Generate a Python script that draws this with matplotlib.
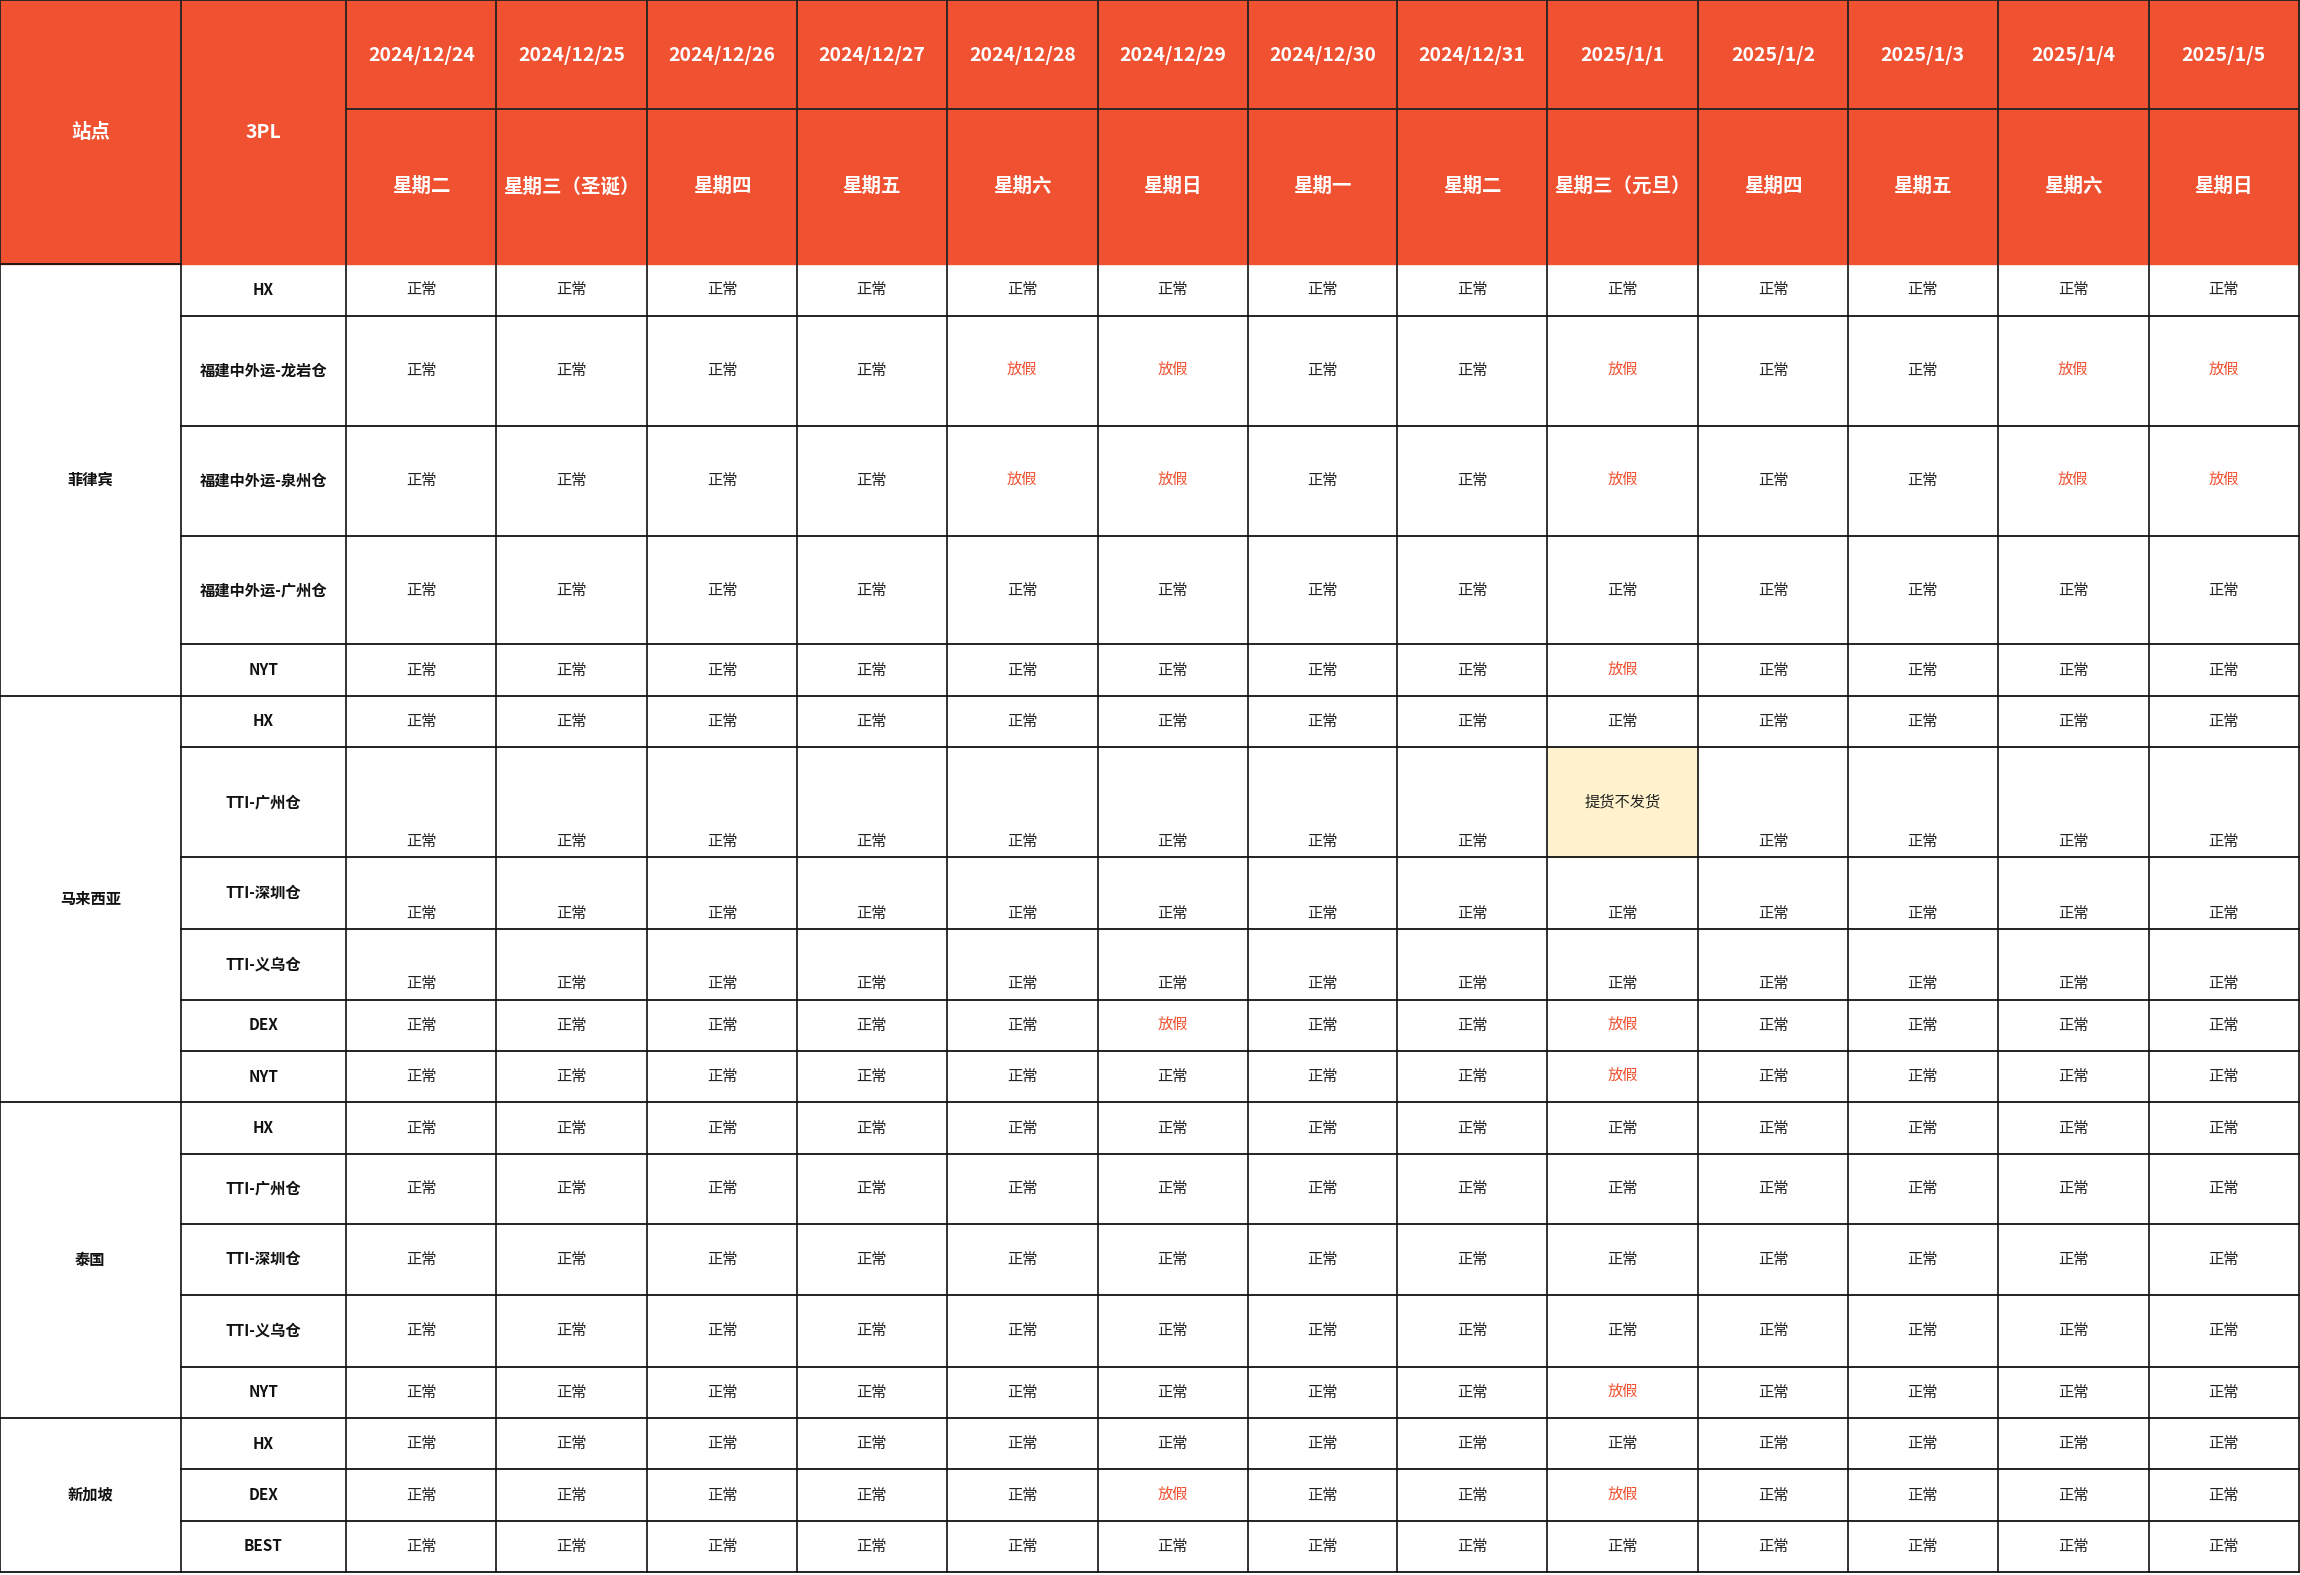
import matplotlib
matplotlib.use("Agg")
import matplotlib.pyplot as plt
from matplotlib.patches import Rectangle

plt.rcParams["font.family"] = ["Noto Sans CJK SC", "DejaVu Sans"]

dates = ["2024/12/24", "2024/12/25", "2024/12/26", "2024/12/27", "2024/12/28", "2024/12/29",
         "2024/12/30", "2024/12/31", "2025/1/1", "2025/1/2", "2025/1/3", "2025/1/4", "2025/1/5"]
weekdays = ["星期二", "星期三（圣诞）", "星期四", "星期五", "星期六", "星期日",
            "星期一", "星期二", "星期三（元旦）", "星期四", "星期五", "星期六", "星期日"]
sites = ["菲律宾", "马来西亚", "泰国", "新加坡"]
site_rows = [5, 6, 5, 3]
providers = ["HX", "福建中外运-龙岩仓", "福建中外运-泉州仓", "福建中外运-广州仓", "NYT",
             "HX", "TTI-广州仓", "TTI-深圳仓", "TTI-义乌仓", "DEX", "NYT",
             "HX", "TTI-广州仓", "TTI-深圳仓", "TTI-义乌仓", "NYT",
             "HX", "DEX", "BEST"]
# N=正常, H=放假, X=提货不发货
status = ["NNNNNNNNNNNNN", "NNNNHHNNHNNHH", "NNNNHHNNHNNHH", "NNNNNNNNNNNNN", "NNNNNNNNHNNNN",
          "NNNNNNNNNNNNN", "NNNNNNNNXNNNN", "NNNNNNNNNNNNN", "NNNNNNNNNNNNN", "NNNNNHNNHNNNN", "NNNNNNNNHNNNN",
          "NNNNNNNNNNNNN", "NNNNNNNNNNNNN", "NNNNNNNNNNNNN", "NNNNNNNNNNNNN", "NNNNNNNNHNNNN",
          "NNNNNNNNNNNNN", "NNNNNHNNHNNNN", "NNNNNNNNNNNNN"]
labels = {"N": "正常", "H": "放假", "X": "提货不发货"}
bottom_rows = {6, 7, 8}

# layout (reference pixel units)
col_x = [0, 123, 236, 338, 441, 543, 645, 748, 850, 952, 1054, 1157, 1259, 1361, 1464, 1566]
hdr_y = [0, 74, 180]
row_y = [180, 215, 290, 365, 439, 474, 509, 584, 633, 681, 716, 751,
         786, 834, 882, 931, 966, 1001, 1036, 1071]
W, H = 1567, 1073
RED = "#EF5131"

fig = plt.figure(figsize=(23, 15.75), dpi=100)
ax = fig.add_axes([0, 0, 1, 1])
ax.set_xlim(0, W)
ax.set_ylim(H, 0)
ax.axis("off")
lw = 1.3

# header
ax.add_patch(Rectangle((0, 0), col_x[-1], hdr_y[2], color=RED, zorder=0))
hk = dict(color="white", fontsize=14, fontweight="bold", ha="center", va="center")
ax.text(col_x[0] / 2 + col_x[1] / 2, 90, "站点", **hk)
ax.text((col_x[1] + col_x[2]) / 2, 90, "3PL", **hk)
for i, (d, w) in enumerate(zip(dates, weekdays)):
    cx = (col_x[i + 2] + col_x[i + 3]) / 2
    ax.text(cx, 38, d, **hk)
    ax.text(cx, 127, w, **hk)
ax.plot([col_x[2], col_x[-1]], [hdr_y[1]] * 2, color="#222", lw=lw)
for x in col_x:
    ax.plot([x, x], [0, row_y[-1]], color="#222" if x else "#222", lw=lw)
ax.plot([0, col_x[-1]], [0, 0], color="#222", lw=lw)

# body
for r in range(len(providers)):
    y0, y1 = row_y[r], row_y[r + 1]
    cy = (y0 + y1) / 2
    ax.text((col_x[1] + col_x[2]) / 2, cy, providers[r], fontsize=11, fontweight="bold",
            ha="center", va="center", color="#111")
    ax.plot([col_x[1], col_x[-1]], [y1, y1], color="#111", lw=lw)
    for c, s in enumerate(status[r]):
        cx = (col_x[c + 2] + col_x[c + 3]) / 2
        if s == "X":
            ax.add_patch(Rectangle((col_x[c + 2], y0), col_x[c + 3] - col_x[c + 2], y1 - y0,
                                   color="#FFF2CC", zorder=0))
            ty = cy
        elif r in bottom_rows:
            ty = y1 - 11
        else:
            ty = cy
        ax.text(cx, ty, labels[s], fontsize=11, ha="center", va="center",
                color=RED if s == "H" else "#222")

ax.plot([0, col_x[1]], [row_y[0]] * 2, color="#111", lw=lw)
start = 0
for name, n in zip(sites, site_rows):
    y0, y1 = row_y[start], row_y[start + n]
    ax.text(col_x[1] / 2, (y0 + y1) / 2, name, fontsize=11, fontweight="bold",
            ha="center", va="center", color="#111")
    ax.plot([0, col_x[1]], [y1, y1], color="#111", lw=lw)
    start += n

fig.savefig("out.png", dpi=100)
